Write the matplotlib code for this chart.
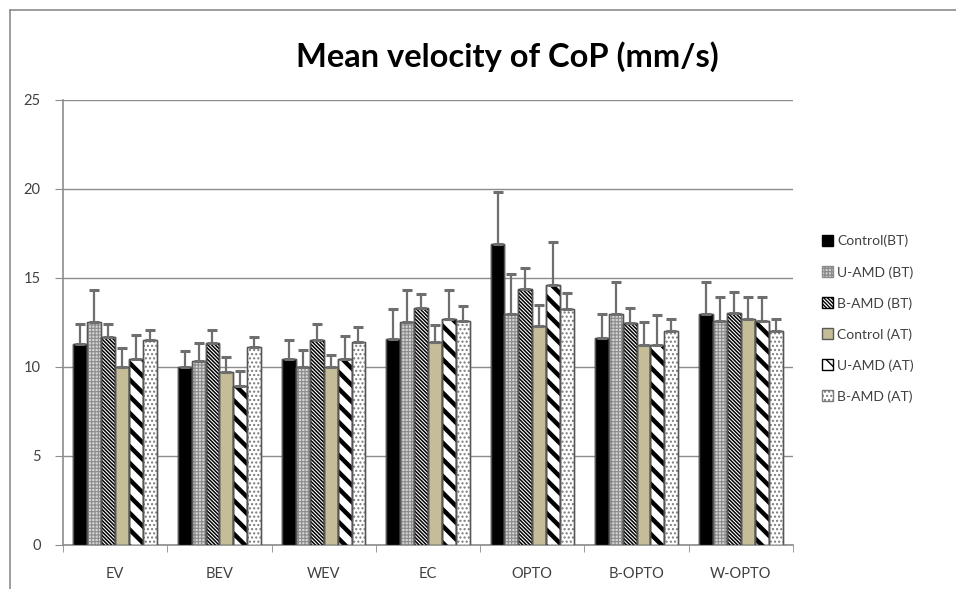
#
# Mean velocity of CoP (mm/s) - grouped bars with upper error bars
#
import matplotlib
matplotlib.use("Agg")
import matplotlib.pyplot as plt
import numpy as np
from matplotlib.lines import Line2D

plt.rcParams['font.family'] = ['Lato', 'DejaVu Sans']

categories = ['EV', 'BEV', 'WEV', 'EC', 'OPTO', 'B-OPTO', 'W-OPTO']
series = ['Control(BT)', 'U-AMD (BT)', 'B-AMD (BT)', 'Control (AT)', 'U-AMD (AT)', 'B-AMD (AT)']

# bar heights, one list per series
control_bt = [11.3, 10.0, 10.45, 11.6, 16.9, 11.65, 13.0]
uamd_bt    = [12.5, 10.35, 10.0, 12.5, 12.95, 12.95, 12.6]
bamd_bt    = [11.7, 11.35, 11.5, 13.3, 14.4, 12.45, 13.05]
control_at = [10.0, 9.7, 10.0, 11.4, 12.3, 11.25, 12.7]
uamd_at    = [10.45, 8.95, 10.45, 12.7, 14.6, 11.25, 12.6]
bamd_at    = [11.5, 11.1, 11.4, 12.6, 13.25, 12.0, 12.0]

# top of the error bar, one list per series
control_bt_top = [12.4, 10.9, 11.5, 13.25, 19.85, 12.95, 14.75]
uamd_bt_top    = [14.3, 11.35, 10.95, 14.3, 15.25, 14.75, 13.95]
bamd_bt_top    = [12.4, 12.1, 12.4, 14.1, 15.55, 13.3, 14.2]
control_at_top = [11.05, 10.55, 10.7, 12.35, 13.5, 12.5, 13.95]
uamd_at_top    = [11.8, 9.75, 11.75, 14.3, 17.05, 12.9, 13.95]
bamd_at_top    = [12.1, 11.7, 12.25, 13.45, 14.15, 12.7, 12.7]

values = [control_bt, uamd_bt, bamd_bt, control_at, uamd_at, bamd_at]
tops = [control_bt_top, uamd_bt_top, bamd_bt_top, control_at_top, uamd_at_top, bamd_at_top]

# facecolor, hatch, hatch/edge colour, hatch linewidth
styles = [
    ('#000000', None, '#000000', 1.0),
    ('#d4d4d4', '+++++', '#8c8c8c', 0.8),
    ('#ffffff', '\\' * 9, '#000000', 1.1),
    ('#c4bd97', None, '#5a5a5a', 1.0),
    ('#ffffff', '\\\\', '#000000', 3.2),
    ('#ffffff', '....', '#7a7a7a', 1.0),
]

fig = plt.figure(figsize=(9.56, 5.89), dpi=100)
ax = fig.add_axes([63/956, 1-545/589, (793-63)/956, (545-100)/589])

x = np.arange(len(categories))
w = 0.8 / len(series)

for k, (name, vals, top, st) in enumerate(zip(series, values, tops, styles)):
    fc, hatch, hc, hlw = st
    pos = x - 0.4 + w * (k + 0.5)
    with plt.rc_context({'hatch.linewidth': hlw, 'hatch.color': hc}):
        bars = ax.bar(pos, vals, w, color=fc, hatch=hatch, edgecolor=hc,
                      linewidth=1.0, label=name, zorder=3)
        for b in bars:
            if hasattr(b, 'set_hatch_linewidth'):
                b.set_hatch_linewidth(hlw)
    # grey outline
    ax.bar(pos, vals, w, fill=False, edgecolor='#555555', linewidth=1.0, zorder=4)
    err = np.array(top) - np.array(vals)
    ax.errorbar(pos, vals, yerr=[np.zeros(len(vals)), err], fmt='none',
                ecolor='#6e6e6e', elinewidth=1.6, capsize=3.5, capthick=2.2, zorder=5)

ax.set_xlim(-0.5, len(categories) - 0.5)
ax.set_ylim(0, 25)
ax.set_yticks([0, 5, 10, 15, 20, 25])
ax.yaxis.grid(True, color='#8c8c8c', linewidth=1.0, zorder=0)
ax.set_axisbelow(True)

ax.set_xticks(x)
ax.set_xticklabels(categories)
ax.set_xticks(np.arange(-0.5, len(categories)), minor=True)
ax.tick_params(axis='x', which='major', length=0, pad=16, labelsize=10.5, labelcolor='#404040')
ax.tick_params(axis='x', which='minor', length=5, color='#8c8c8c')
ax.tick_params(axis='y', length=6, color='#8c8c8c', pad=10, labelsize=10.5, labelcolor='#404040')

for s in ['top', 'right']:
    ax.spines[s].set_visible(False)
for s in ['left', 'bottom']:
    ax.spines[s].set_color('#8c8c8c')
    ax.spines[s].set_linewidth(1.2)

fig.text(507/956, 1-57/589, 'Mean velocity of CoP (mm/s)', ha='center', va='center',
         fontsize=23.5, fontweight='bold', color='#000000')

handles, labels = ax.get_legend_handles_labels()
fig.legend(handles, labels, loc='upper left', bbox_to_anchor=(815/956, 1-228/589),
           frameon=False, fontsize=10, handlelength=0.8, handleheight=0.8,
           handletextpad=0.3, labelspacing=1.33, borderpad=0, labelcolor='#404040')

# chart border (top and left edges visible)
fig.add_artist(Line2D([10/956, 1], [1-10/589, 1-10/589], color='#8c8c8c', linewidth=1.2))
fig.add_artist(Line2D([10/956, 10/956], [0, 1-10/589], color='#8c8c8c', linewidth=1.2))

fig.savefig('out.png', dpi=100)
